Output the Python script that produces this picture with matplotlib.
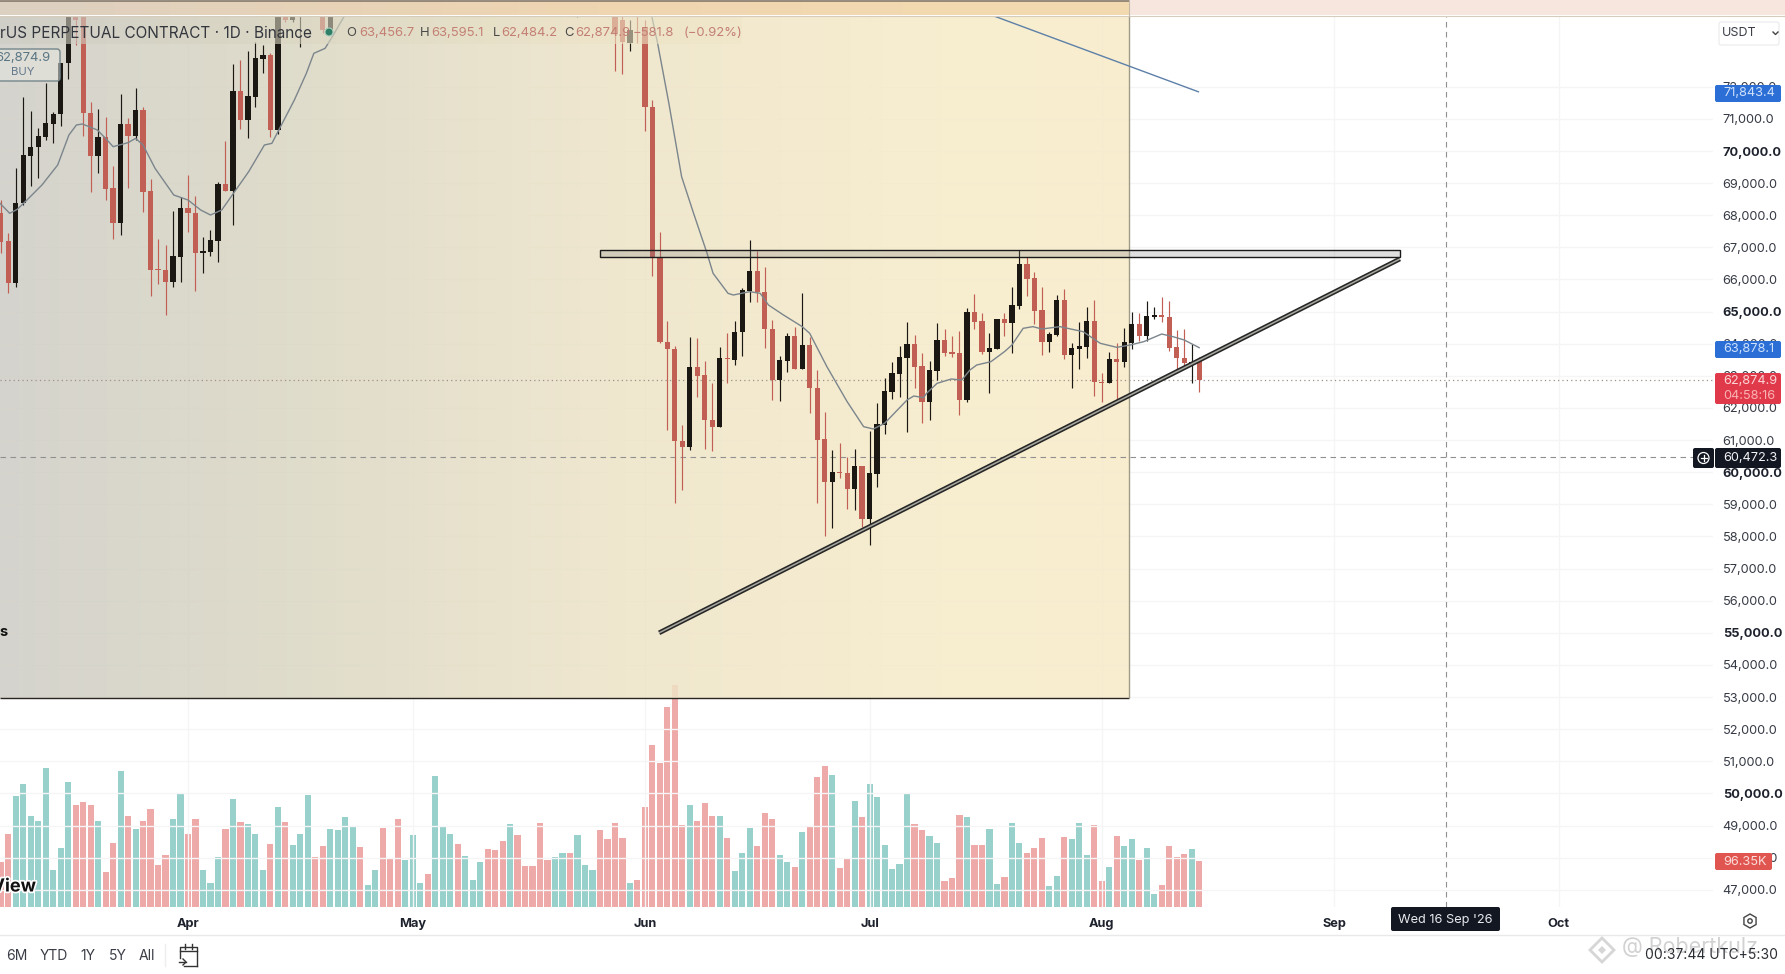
import numpy as np
import matplotlib
matplotlib.use("Agg")
import matplotlib.pyplot as plt
import matplotlib.patheffects as pe
from matplotlib.patches import Rectangle, FancyBboxPatch, Circle, RegularPolygon

plt.rcParams['font.family'] = ['Inter', 'DejaVu Sans']

# day numbers count from 1 Apr
month_days = [0, 30, 61, 91, 122, 153, 183]
month_labels = ['Apr', 'May', 'Jun', 'Jul', 'Aug', 'Sep', 'Oct']
price_ticks = list(range(47000, 73000, 1000))

# candles, the ones between mid April and late May are off the top of the pane
candle_days = list(range(-25, 16)) + [18, 19, 52] + list(range(57, 136))
opens = [
    68060, 67209, 65880, 68371, 69855, 70114, 70446, 70841, 71142, 72729, 74390, 74286, 71173, 69855, 70446, 68838,
    67769, 70841, 70467, 71277, 68755, 66327, 66296, 65932, 66711, 68215, 68060, 66835, 66866, 67209, 68973, 68765,
    71868, 70965, 71692, 72864, 72989, 70654, 74390, 74078, 74493,
    74286, 73767, 75000,
    74286, 74078, 73352, 73715, 73871, 71360, 66659, 64065, 63826, 60983, 60796, 63266, 63027, 61626, 61419, 63546,
    63494, 64376, 65642, 66265, 65600, 64449, 62871, 63473, 64241, 63214, 63951, 62633, 61024, 59706, 60018, 59966,
    59478, 60194, 58555, 59945, 61470, 62508, 63058, 63567, 63992, 63307, 62186, 63162, 64117, 63753, 63702, 62249,
    65000, 64708, 63753, 63847, 64781, 64656, 65175, 66483, 66036, 65050, 64065, 64272, 65362, 63650, 63847, 63909,
    64708, 62820, 62768, 63515, 63442, 64033, 64604, 64241, 64843, 64895, 64822, 63909, 63546, 63390, 63457,
]
closes = [
    67178, 65880, 68371, 69876, 70114, 70467, 70861, 71152, 72729, 74390, 74078, 71173, 69845, 70446, 68817, 67769,
    70841, 70467, 71277, 68734, 66296, 66296, 65912, 66731, 68215, 68060, 66835, 66887, 67229, 68973, 68765, 71868,
    70965, 71712, 72885, 72989, 70654, 74390, 74078, 74390, 74649,
    73767, 74390, 75500,
    73663, 73404, 73767, 73684, 71360, 66711, 64065, 63826, 60983, 60796, 63266, 63006, 61626, 61419, 63546, 63515,
    64376, 65673, 66265, 65600, 64449, 62871, 63494, 64241, 63214, 63951, 62633, 61003, 59706, 60018, 59966, 59478,
    60194, 58555, 59966, 61491, 62518, 63079, 63577, 63992, 63286, 62186, 63183, 64117, 63702, 63681, 62249, 65000,
    64687, 63733, 63868, 64781, 64656, 65206, 66483, 66016, 65030, 64065, 64293, 65362, 63650, 63857, 63930, 64708,
    62820, 62768, 63515, 63442, 64065, 64604, 64241, 64864, 64885, 64822, 63868, 63546, 63390, 63421, 62875,
]
highs = [
    68475, 67437, 69461, 71692, 71245, 70706, 72107, 71225, 72729, 74493, 74493, 74390, 71536, 71308, 71069, 69533,
    71775, 71017, 71951, 71360, 69118, 67250, 67074, 68143, 68558, 69253, 68599, 67313, 67541, 69046, 70322, 72709,
    72833, 73124, 73404, 73300, 73041, 74493, 74493, 74493, 74701,
    74390, 74493, 75800,
    74390, 74286, 74078, 74213, 74078, 71588, 67489, 64718, 63930, 61470, 64220, 64168, 63473, 62788, 63909, 64345,
    64718, 65725, 67230, 66898, 66400, 64739, 63618, 64324, 64532, 65590, 64200, 63183, 61886, 60692, 60900, 60485,
    60713, 60194, 61294, 62145, 62923, 63442, 63940, 64677, 64272, 63722, 63473, 64635, 64459, 64241, 64397, 65102,
    65549, 64967, 64345, 64781, 64947, 65777, 66918, 66690, 66244, 65756, 64376, 65507, 65694, 64033, 64677, 65154,
    65362, 63100, 63753, 64013, 64480, 65000, 64947, 65331, 65154, 65466, 65341, 64428, 64449, 63982, 63595,
]
lows = [
    66815, 65569, 65777, 68319, 68911, 69149, 70343, 70239, 70778, 72231, 73300, 70467, 68734, 69326, 68475, 67261,
    67385, 68838, 70343, 68112, 65497, 65860, 64895, 65756, 65932, 67489, 65652, 66192, 66731, 66534, 68765, 67696,
    70675, 70415, 71380, 72439, 70446, 70519, 74027, 74027, 73248,
    73663, 73663, 74160,
    72501, 72397, 73124, 73352, 70633, 66109, 64013, 61315, 59032, 59447, 60692, 62352, 60713, 60671, 61419, 62788,
    63338, 63618, 65310, 65310, 63878, 62249, 62218, 63131, 63214, 63214, 61854, 59032, 58025, 58274, 59810, 58855,
    58824, 58306, 57735, 59551, 61190, 62269, 62352, 61263, 62612, 61522, 61626, 62871, 63618, 63598, 61782, 62197,
    64449, 63681, 62456, 63847, 64252, 63722, 65071, 65486, 64615, 63650, 63733, 64252, 63515, 62633, 63214, 63567,
    62384, 62197, 62768, 62280, 63286, 63826, 64096, 64096, 64760, 64687, 63785, 63203, 63234, 62788, 62484,
]

# 30-ish day average, two visible stretches
ma_days_a = [-25.1, -23.8, -22.8, -21.5, -19.5, -17.4, -15.9, -14.9, -14.1, -12.1, -11, -10, -8, -7, -6, -4.4, -1.9, 0,
             1.7, 3, 4.5, 5.6, 8.1, 10.2, 11.2, 12.7, 14.2, 15.8, 16.8, 18.3, 19.4, 20.9, 22]
ma_a = [68371, 68060, 68184, 68475, 68942, 69564, 70498, 70810, 70841, 70654, 70394, 70135, 70260, 70394, 70187, 69461,
        68630, 68475, 68163, 68008, 68163, 68527, 69357, 70187, 70239, 70913, 71588, 72418, 73041, 73196, 73611, 74213,
        74500]
ma_days_b = [61.5, 61.9, 62.7, 64.2, 65.9, 67.5, 69.3, 70.1, 72.1, 72.8, 75, 76.4, 77.5, 79.5, 82, 83, 85.3, 88, 90.2,
             91.5, 93, 96, 96.9, 98.2, 98.6, 100, 101.9, 103.3, 104.4, 105.3, 107.2, 109, 110, 111.5, 112.8, 114, 116.4,
             119.5, 121.8, 124, 125.8, 127.6, 130, 131.5, 133, 135]
ma_b = [74493, 74213, 73352, 71484, 69201, 68060, 66815, 66192, 65569, 65517, 65621, 65569, 65206, 64895, 64532, 64324,
        63286, 62197, 61419, 61346, 61522, 62249, 62373, 62321, 62456, 62767, 62902, 62871, 63183, 63338, 63442, 63753,
        63961, 64480, 64532, 64459, 64532, 64376, 64013, 63888, 63961, 64065, 64303, 64220, 64117, 63878]

# long average, only its tail shows
long_ma_days = [107.6, 134.9]
long_ma = [74203, 71843]

# volume in thousands, one bar per day from day -25
volume = [
    94, 152, 232, 258, 191, 181, 292, 78, 124, 262, 213, 221, 213, 181, 73, 134, 284, 191, 163, 181, 206, 87, 108, 184, 237,
    154, 184, 78, 51, 104, 163, 227, 179, 173, 154, 78, 133, 209, 179, 129, 154, 234, 104, 127, 163, 161, 188, 169, 125, 47,
    78, 165, 101, 184, 98,
    150, 51, 70, 274, 167, 154, 131, 106, 56, 94, 121, 119, 138, 173, 150, 85, 85, 175, 98, 105, 114, 114, 150, 89, 77,
    161, 142, 175, 144, 51,
    57, 209, 339, 302, 420, 466, 171, 213, 181, 217, 190, 190, 144, 75, 114, 165, 127, 196, 184, 110, 94, 83, 158, 169, 272,
    295, 276, 81, 102, 223,
    188, 257, 230, 129, 79, 91, 238, 173, 161, 148, 135, 54, 60, 192, 188, 129, 129, 163, 49, 62, 175, 135, 114, 123, 144,
    45, 64, 146, 142, 175,
    110, 171, 54, 83, 148, 127, 142, 98, 123, 27, 47, 127, 104, 112, 121, 96,
]
volume_dir = ("rrttttttttrrrtrrtrtrrrrtt" "rrtttrtrtttrtrtttrrttttrttrrrt" "ttrtttrtttrrrtrrrrrttrtttrrrrt"
              "rrrrrrrtrrrtrtttrrrttrtrrrtrrt" "rttttttrrttrrrtrrttrttrrrttrtt" "trrtrttrttrrrrtr")

zone_days = [55, 161.8]
zone_prices = [66690, 66918]
trend_days = [62.9, 161.8]
trend_prices = [55000, 66640]
box_days = [-25.1, 125.6]
box_prices = [52970, 74203]

last_price = 62874.9
cross_price = 60472.3
cross_day = 168

RED = '#c25f55'
BLACK = '#1b1813'
TEAL = '#98d0cc'
PINK = '#eeaaa9'
GRID = '#f5f5f5'
INK = '#363a45'
DARK = '#131722'

fig = plt.figure(figsize=(17.85, 9.74), dpi=100, facecolor='white')
pos = [0, (974 - 907) / 974, 1713 / 1785, (907 - 16) / 974]
xlim = (-25.1, 203.6)
ylim = (46465, 74203)

# volume sits under everything else
ax_vol = fig.add_axes(pos, zorder=1)
ax_vol.set_xlim(xlim)
ax_vol.set_ylim(0, 1867)
ax_vol.axis('off')
vol_days = np.arange(-25, -25 + len(volume))
vol_cols = [TEAL if c == 't' else PINK for c in volume_dir]
ax_vol.bar(vol_days, volume, width=0.82, color=vol_cols, linewidth=0)

ax = fig.add_axes(pos, zorder=2)
ax.patch.set_alpha(0)
ax.set_xlim(xlim)
ax.set_ylim(ylim)
for s in ax.spines.values():
    s.set_visible(False)
ax.yaxis.tick_right()
ax.set_yticks(price_ticks)
ax.set_yticklabels([f'{p:,.1f}' for p in price_ticks], fontsize=9.2, color=INK)
for lab, p in zip(ax.get_yticklabels(), price_ticks):
    if p % 5000 == 0:
        lab.set_fontweight('bold')
        lab.set_color('#1e222d')
ax.set_xticks(month_days)
ax.set_xticklabels(month_labels, fontsize=9.2, fontweight='bold', color='#1e222d')
ax.tick_params(axis='y', length=0, pad=7)
ax.tick_params(axis='x', length=0, pad=8)
ax.grid(True, color=GRID, lw=1)
ax.set_axisbelow(True)

# shaded box, see-through so the volume spike shows under it
stops = [0, 0.25, 0.53, 0.8, 1]
r = [0xd5, 0xdf, 0xef, 0xf7, 0xf9]
g = [0xd4, 0xdc, 0xe7, 0xed, 0xee]
b = [0xcd, 0xcb, 0xcf, 0xd0, 0xd0]
t = np.linspace(0, 1, 400)
alpha = 0.85
grad = np.dstack([(np.interp(t, stops, c) / 255 - (1 - alpha)) / alpha for c in (r, g, b)]).clip(0, 1)
ax.imshow(grad, extent=(box_days[0], box_days[1], box_prices[0], box_prices[1]), aspect='auto', alpha=alpha, zorder=1,
          interpolation='bilinear')
ax.hlines(box_prices[0], box_days[0], box_days[1], color='#2a2520', lw=1, zorder=2)
ax.vlines(box_days[1], box_prices[0], box_prices[1], color='#a09a88', lw=1, zorder=2)
ax.set_xlim(xlim)
ax.set_ylim(ylim)

# crosshair and last price line
ax.axhline(cross_price, color='#909090', lw=0.8, ls=(0, (5, 4)), zorder=2)
ax.axvline(cross_day, color='#909090', lw=0.8, ls=(0, (5, 4)), zorder=2)
ax.axhline(last_price, color='#a08f88', lw=0.9, ls=(0, (1, 2.5)), zorder=2)

# candles
days = np.array(candle_days)
o, c, h, l = map(np.array, (opens, closes, highs, lows))
cols = np.where(c >= o, BLACK, RED)
ax.vlines(days, l, h, color=cols, lw=0.85, zorder=4)
ax.bar(days, np.abs(c - o), bottom=np.minimum(o, c), width=0.7, color=cols, linewidth=0, zorder=4)

ax.plot(ma_days_a, ma_a, color='#7b858c', lw=1.0, zorder=5)
ax.plot(ma_days_b, ma_b, color='#7b858c', lw=1.0, zorder=5)
ax.plot(long_ma_days, long_ma, color='#5d80a8', lw=1, zorder=5)

# drawings: resistance zone and rising trend line
ax.add_patch(Rectangle((zone_days[0], zone_prices[0]), zone_days[1] - zone_days[0], zone_prices[1] - zone_prices[0],
                       fc=(0.5, 0.5, 0.5, 0.25), ec='#1a1a1a', lw=1.0, zorder=6))
ax.plot(trend_days, trend_prices, color='#262626', lw=3.4, zorder=6, solid_capstyle='butt')
ax.plot(trend_days, trend_prices, color='#a8a8a0', lw=1.1, zorder=6, solid_capstyle='butt')

# legend row fades what is under it
fade = ax.imshow(grad, extent=(box_days[0], box_days[1], box_prices[0], box_prices[1]), aspect='auto', alpha=0.6,
                 zorder=7, interpolation='bilinear')
fade.set_clip_path(Rectangle((box_days[0], 73331), 99, 872, transform=ax.transData))
ax.set_xlim(xlim)
ax.set_ylim(ylim)

# everything around the chart, in pixels
top = fig.add_axes([0, 0, 1, 1], zorder=3)
top.patch.set_alpha(0)
top.axis('off')

band = np.dstack([np.interp(t, stops, c) / 255 for c in ([0xdc, 0xe6, 0xef, 0xf2, 0xf3], [0xd0, 0xd2, 0xd6, 0xd9, 0xda],
                                                         [0xc2, 0xb8, 0xb2, 0xb0, 0xb0])])
top.imshow(band, extent=(0, 1128.5, 15, 1), aspect='auto', interpolation='bilinear')
top.add_patch(Rectangle((1128.5, 0), 657, 15, fc='#f7e6de', ec='none'))
top.plot([0, 1128.5], [0.5, 0.5], color='#85786a', lw=1.2)
top.plot([0, 1785], [15.5, 15.5], color='#d6ccbc', lw=0.8)
top.plot([1128.5, 1128.5], [0, 16], color='#c4b8a6', lw=0.8)
top.set_xlim(0, 1785)
top.set_ylim(974, 0)


def label(x, y, s, **kw):
    kw.setdefault('va', 'center')
    kw.setdefault('ha', 'left')
    kw.setdefault('color', INK)
    kw.setdefault('fontsize', 9.2)
    return top.text(x, y, s, **kw)


def tag(x0, y0, x1, y1, col):
    top.add_patch(FancyBboxPatch((x0 + 1, y0 + 1), x1 - x0 - 2, y1 - y0 - 2, boxstyle='round,pad=1,rounding_size=2',
                                 fc=col, ec='none'))


# legend row
label(0, 33, 'rUS PERPETUAL CONTRACT · 1D · Binance', fontsize=11.05, color='#33363d')
top.add_patch(Circle((329, 32), 4, fc='#2f7f67', ec='#a9cfc0', lw=0.8))
val_col = '#c47f74'
for x, s in [(346, 'O'), (420, 'H'), (493, 'L'), (564, 'C')]:
    label(x, 33, s, color='#4a4a4a', fontsize=9.4)
for x, s in [(359, '63,456.7'), (431, '63,595.1'), (501, '62,484.2'), (575, '62,874.9'), (633, '\u2212581.8'),
             (684, '(\u22120.92%)')]:
    label(x, 33, s, color=val_col, fontsize=9.4)

# buy tag cut by the left edge
top.add_patch(FancyBboxPatch((-10, 49), 70, 32, boxstyle='round,pad=0,rounding_size=3', fc=(0.9, 0.9, 0.88, 0.55),
                             ec='#74868a', lw=1))
label(23, 58, '62,874.9', ha='center', color='#5a7684', fontsize=9.4)
label(23, 72, 'BUY', ha='center', color='#64798b', fontsize=8.2)
label(-1, 632, 's', fontweight='bold', color='#111111', fontsize=10.5)
label(36, 887, 'View', ha='right', fontweight='bold', color='#111111', fontsize=13,
      path_effects=[pe.withStroke(linewidth=2.5, foreground='white')])

# currency selector
top.add_patch(FancyBboxPatch((1719, 22), 60, 23, boxstyle='round,pad=0,rounding_size=2', fc='white', ec='#eeeeee', lw=1))
label(1722, 33, 'USDT', fontsize=9, color='#3a3d45')
top.plot([1773, 1775.5, 1778], [32, 34.5, 32], color='#444444', lw=1)

# price tags over the axis
tag(1715, 85, 1781, 102, '#2b6fd6')
label(1723, 93, '71,843.4', color='#cfe0fb')
tag(1715, 341, 1781, 358, '#2b6fd6')
label(1723, 349, '63,878.1', color='#cfe0fb')
tag(1715, 373, 1781, 404, '#e0394a')
label(1723, 381, '62,874.9', color='#fbd5d5')
label(1723, 396, '04:58:16', color='#f9b3b3')
tag(1693, 448, 1714, 468, DARK)
top.add_patch(Circle((1703.5, 458), 5.5, fc='none', ec='white', lw=0.9))
top.plot([1700.5, 1706.5], [458, 458], color='white', lw=0.9)
top.plot([1703.5, 1703.5], [455, 461], color='white', lw=0.9)
tag(1715, 448, 1781, 468, DARK)
label(1723, 458, '60,472.3', color='#f2f3f5')
tag(1715, 853, 1772, 870, '#e0554f')
label(1723, 862, '96.35K', color='#fbdcda')

# date tag on the time axis
tag(1391, 907, 1500, 931, DARK)
label(1445.5, 920, "Wed 16 Sep '26", ha='center', color='#e8eaee', fontsize=9.2)

top.plot([0, 1785], [935, 935], color='#e9e9e9', lw=1)
top.add_patch(RegularPolygon((1750, 921), 6, radius=7, fc='none', ec='#444444', lw=1))
top.add_patch(Circle((1750, 921), 2.2, fc='none', ec='#444444', lw=1))

# bottom toolbar
for x, s in [(17, '6M'), (54, 'YTD'), (88, '1Y'), (118, '5Y'), (147, 'All')]:
    label(x, 956, s, ha='center', color='#3a3d45', fontsize=10)
top.plot([165, 165], [944, 966], color='#eeeeee', lw=1)
top.plot([180, 180, 197, 197], [958, 947, 947, 966], color='#333333', lw=1)
top.plot([184, 197], [966, 966], color='#333333', lw=1)
top.plot([180, 197], [951, 951], color='#333333', lw=1)
top.plot([185, 185], [944, 949], color='#333333', lw=1)
top.plot([192, 192], [944, 949], color='#333333', lw=1)
top.plot([179, 186], [962, 962], color='#333333', lw=1)
top.plot([183, 186, 183], [959, 962, 965], color='#333333', lw=1)

# watermark and clock
top.add_patch(RegularPolygon((1602, 950), 4, radius=12, fc='none', ec='#d6d6d6', lw=2))
top.add_patch(RegularPolygon((1602, 950), 4, radius=4, fc='#d6d6d6', ec='none'))
label(1622, 947, '@ Robertkulz', color='#d2d2d2', fontsize=15.5)
label(1645, 955, '00:37:44 UTC+5:30', color='#2a2d33', fontsize=10)

top.set_xlim(0, 1785)
top.set_ylim(974, 0)

fig.savefig('out.png', dpi=100)
